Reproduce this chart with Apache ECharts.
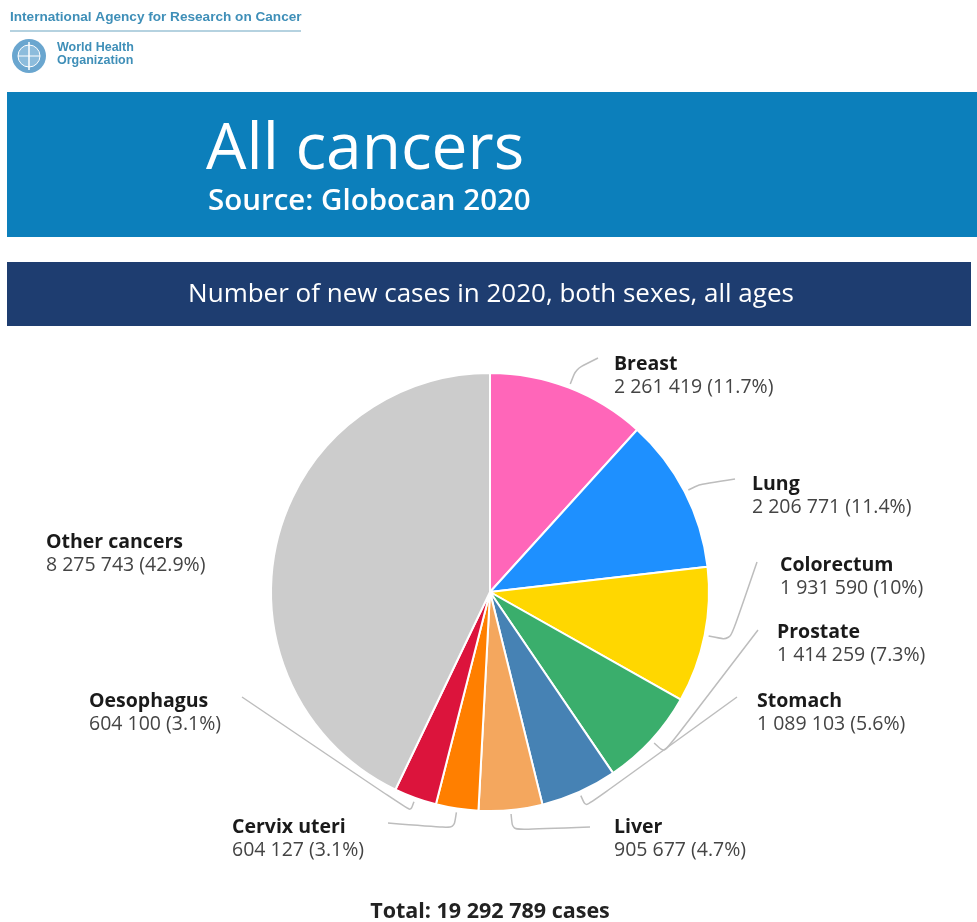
<!DOCTYPE html>
<html><head><meta charset="utf-8">
<script src="https://cdn.jsdelivr.net/npm/echarts@6/dist/echarts.min.js"></script>
<style>html,body{margin:0;padding:0;background:#fff}#c{width:977px;height:922px}</style>
</head><body><div id="c"></div>
<script>
// ---- data ----
const categories = ['Breast', 'Lung', 'Colorectum', 'Prostate', 'Stomach', 'Liver', 'Cervix uteri', 'Oesophagus', 'Other cancers'];
const newCases = [2261419, 2206771, 1931590, 1414259, 1089103, 905677, 604127, 604100, 8275743];
const sliceColors = ['#ff66b9', '#1e90ff', '#ffd700', '#3aae6c', '#4682b4', '#f4a75e', '#ff7f00', '#dc143c', '#cccccc'];
const titleText = 'All cancers';
const sourceText = 'Source: Globocan 2020';
const subtitleText = 'Number of new cases in 2020, both sexes, all ages';
const agencyText = 'International Agency for Research on Cancer';
const whoLines = ['World Health', 'Organization'];

const totalCases = newCases.reduce((a, b) => a + b, 0);
const fmt = v => String(v).replace(/\B(?=(\d{3})+(?!\d))/g, ' ');
const pct = v => +(v / totalCases * 100).toFixed(1);

// label placement (annotation layout): [left x, top y, line end x, line end y, elbow length]
const labelSpots = [
  [614, 353, 598, 358, 16],
  [752, 473, 735, 479, 12],
  [780, 554, 757, 562, 22],
  [777, 621, 758, 630, 14],
  [757, 690, 737, 697, 12],
  [614, 816, 590, 827, 16],
  [232, 816, 388, 823, 16],
  [89, 690, 242, 697, 10],
  [46, 531, null, null, 0]
];
const pieCenter = [490, 592];
const pieRadius = 219;
const FONT = '"Open Sans", "Noto Sans", sans-serif';

const chart = echarts.init(document.getElementById('c'), null, { renderer: 'canvas' });

const pieData = categories.map((name, i) => ({
  name: name,
  value: newCases[i],
  itemStyle: { color: sliceColors[i] },
  labelLine: { show: labelSpots[i][2] != null }
}));

const option = {
  animation: false,
  backgroundColor: '#ffffff',
  graphic: [
    // header logos
    { type: 'text', left: 10, top: 10, style: { text: agencyText, fill: '#3f8fb8', font: 'bold 13.6px "Liberation Sans", Arial, sans-serif' } },
    { type: 'line', shape: { x1: 10, y1: 31, x2: 301, y2: 31 }, style: { stroke: '#9cc3d6', lineWidth: 1.5 } },
    { type: 'circle', shape: { cx: 29, cy: 56, r: 17 }, style: { fill: '#6aa6cf' } },
    { type: 'circle', shape: { cx: 29, cy: 56, r: 11 }, style: { fill: '#8cbcdc', stroke: '#ffffff', lineWidth: 1 } },
    { type: 'line', shape: { x1: 29, y1: 42, x2: 29, y2: 70 }, style: { stroke: '#ffffff', lineWidth: 1.5 } },
    { type: 'line', shape: { x1: 18, y1: 56, x2: 40, y2: 56 }, style: { stroke: '#ffffff', lineWidth: 1 } },
    { type: 'text', left: 57, top: 41, style: { text: whoLines[0] + '\n' + whoLines[1], fill: '#3f8fb8', font: 'bold 12.5px "Liberation Sans", Arial, sans-serif', lineHeight: 13 } },
    // blue banner
    { type: 'rect', shape: { x: 7, y: 92, width: 970, height: 145 }, style: { fill: '#0c7fbb' } },
    { type: 'text', left: 206, top: 119, style: { text: titleText, fill: '#ffffff', font: '400 64px ' + FONT } },
    { type: 'text', left: 208, top: 187, style: { text: sourceText, fill: '#ffffff', font: '600 29.5px ' + FONT } },
    // navy banner
    { type: 'rect', shape: { x: 7, y: 262, width: 964, height: 64 }, style: { fill: '#1e3d70' } },
    { type: 'text', x: 491, y: 295, style: { text: subtitleText, fill: '#ffffff', font: '400 26px ' + FONT, align: 'center', verticalAlign: 'middle' } },
    // total
    { type: 'text', x: 490, y: 912, style: { text: 'Total: ' + fmt(totalCases) + ' cases', fill: '#222222', font: 'bold 21.5px ' + FONT, align: 'center', verticalAlign: 'middle' } }
  ],
  series: [{
    type: 'pie',
    center: pieCenter,
    radius: pieRadius,
    startAngle: 90,
    clockwise: true,
    avoidLabelOverlap: false,
    emphasis: { disabled: true },
    itemStyle: { borderColor: '#ffffff', borderWidth: 2 },
    data: pieData,
    label: {
      show: true,
      position: 'outside',
      formatter: p => '{n|' + p.name + '}\n{v|' + fmt(p.value) + ' (' + pct(p.value) + '%)}',
      rich: {
        n: { fontFamily: FONT, fontWeight: 'bold', fontSize: 19.5, color: '#1a1a1a', lineHeight: 23 },
        v: { fontFamily: FONT, fontSize: 19.5, color: '#444444', lineHeight: 23 }
      }
    },
    labelLine: {
      show: true,
      length: 10,
      length2: 10,
      smooth: 0.25,
      lineStyle: { color: '#bdbdbd', width: 1.5 }
    },
    labelLayout: function (params) {
      const s = labelSpots[params.dataIndex];
      const out = { x: s[0], y: s[1], align: 'left', verticalAlign: 'top' };
      const pts = params.labelLinePoints;
      if (pts && s[2] != null) {
        const dx = pts[0][0] - pieCenter[0], dy = pts[0][1] - pieCenter[1];
        const d = Math.hypot(dx, dy) || 1;
        const ux = dx / d, uy = dy / d;
        const p0 = [pts[0][0] + ux * 4, pts[0][1] + uy * 4];
        const p1 = [p0[0] + ux * s[4], p0[1] + uy * s[4]];
        out.labelLinePoints = [p0, p1, [s[2], s[3]]];
      }
      return out;
    }
  }]
};
chart.setOption(option);
</script>
</body></html>
